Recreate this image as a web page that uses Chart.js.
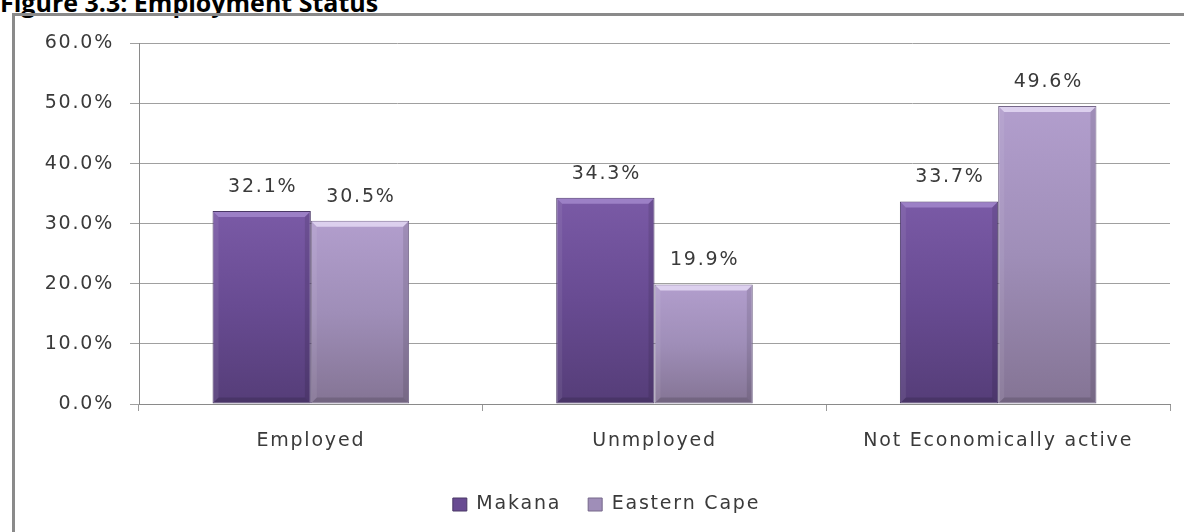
<!DOCTYPE html>
<html>
<head>
<meta charset="utf-8">
<script src="https://cdn.jsdelivr.net/npm/chart.js@4.4.1/dist/chart.umd.min.js"></script>
<style>
    html, body { margin: 0; padding: 0; background: #fff; overflow: hidden; }
    body { width: 1184px; height: 532px; position: relative; }
    #title {
        position: absolute; left: 0; top: -10px; margin: 0;
        font: bold 25px "Open Sans", sans-serif; line-height: 25px; color: #000;
        white-space: nowrap;
    }
    #frame {
        position: absolute; left: 12px; top: 13px; width: 1300px; height: 600px;
        border: 3px solid #8a8a8a;
    }
    #chart { position: absolute; left: 15px; top: 16px; }
</style>
</head>
<body>
<div id="title">Figure 3.3: Employment Status</div>
<div id="frame"></div>
<canvas id="chart" width="1169" height="516"></canvas>
<script>
// values
const categories = ["Employed", "Unmployed", "Not Economically active"];
const makana = [32.1, 34.3, 33.7];
const easternCape = [30.5, 19.9, 49.6];
const yMin = 0, yMax = 60, yStep = 10;

const textColor = "#3a3a3a";
const fontFamily = "DejaVu Sans";
const fontSize = 19;
const spacing = "1.8px"; // the picture's text is drawn wide

function pct(v) { return v.toFixed(1) + "%"; }

// vertical gradient over each bar's own height
function barFill(top, mid, bottom) {
    return function (ctx) {
        const chart = ctx.chart;
        if (!chart.chartArea || ctx.type !== "data") return mid;
        const yScale = chart.scales.y;
        const g = chart.ctx.createLinearGradient(0, yScale.getPixelForValue(ctx.raw), 0, yScale.getPixelForValue(0));
        g.addColorStop(0, top);
        g.addColorStop(0.5, mid);
        g.addColorStop(1, bottom);
        return g;
    };
}

const spacingPlugin = {
    id: "spacing",
    beforeLayout(chart) { chart.ctx.letterSpacing = spacing; },
    afterLayout(chart) {
        if (chart.legend) { chart.legend.left += 14; chart.legend.right += 14; }
    },
    beforeDraw(chart) { chart.ctx.letterSpacing = spacing; },
};

// soft bevel like the office chart style
const bevelColors = ["#9c80c6", "#dcd0ee"];
const bevel = {
    id: "bevel",
    afterDatasetsDraw(chart) {
        const c = chart.ctx;
        const b = 5;
        c.save();
        chart.data.datasets.forEach((ds, i) => {
            chart.getDatasetMeta(i).data.forEach((bar) => {
                const l = bar.x - bar.width / 2 + 1, r = bar.x + bar.width / 2 - 1;
                const t = bar.y + 1, btm = bar.base - 1;
                c.fillStyle = bevelColors[i];
                c.beginPath();
                c.moveTo(l, t); c.lineTo(r, t); c.lineTo(r - b, t + b); c.lineTo(l + b, t + b); c.closePath();
                c.fill();
                c.fillStyle = "rgba(255,255,255,0.07)";
                c.beginPath();
                c.moveTo(l, t); c.lineTo(l + b, t + b); c.lineTo(l + b, btm - b); c.lineTo(l, btm); c.closePath();
                c.fill();
                c.fillStyle = "rgba(0,0,0,0.10)";
                c.beginPath();
                c.moveTo(r, t); c.lineTo(r - b, t + b); c.lineTo(r - b, btm - b); c.lineTo(r, btm); c.closePath();
                c.fill();
                c.fillStyle = "rgba(0,0,0,0.14)";
                c.beginPath();
                c.moveTo(l, btm); c.lineTo(l + b, btm - b); c.lineTo(r - b, btm - b); c.lineTo(r, btm); c.closePath();
                c.fill();
            });
        });
        c.restore();
    },
};

const valueLabels = {
    id: "valueLabels",
    afterDatasetsDraw(chart) {
        const c = chart.ctx;
        c.save();
        c.font = fontSize + 'px "' + fontFamily + '"';
        c.fillStyle = textColor;
        c.textAlign = "center";
        c.textBaseline = "middle";
        chart.data.datasets.forEach((ds, i) => {
            chart.getDatasetMeta(i).data.forEach((bar, j) => {
                c.fillText(pct(ds.data[j]), bar.x + 1, bar.y - 24);
            });
        });
        c.restore();
    },
};

new Chart(document.getElementById("chart"), {
    type: "bar",
    data: {
        labels: categories,
        datasets: [
            {
                label: "Makana",
                data: makana,
                backgroundColor: barFill("#7a5aa6", "#684b92", "#553d78"),
                borderColor: "#4a3866",
                borderWidth: 1,
                borderSkipped: false,
            },
            {
                label: "Eastern Cape",
                data: easternCape,
                backgroundColor: barFill("#b29ecd", "#9f8eb8", "#847494"),
                borderColor: "#76688a",
                borderWidth: 1,
                borderSkipped: false,
            },
        ],
    },
    options: {
        responsive: false,
        animation: false,
        layout: { padding: { top: 27, right: 14, bottom: 8, left: 0 } },
        datasets: { bar: { categoryPercentage: 0.572, barPercentage: 1.0 } },
        scales: {
            x: {
                afterFit(scale) { scale.height = 64; },
                grid: { offset: true, drawOnChartArea: false, drawTicks: true, tickLength: 7, color: "#9a9a9a" },
                border: { color: "#8a8a8a" },
                ticks: { color: textColor, font: { family: fontFamily, size: fontSize }, padding: 19, maxRotation: 0 },
            },
            y: {
                min: yMin,
                max: yMax,
                afterFit(scale) { scale.width = 124; },
                grid: { color: "#a0a0a0", tickLength: 9 },
                border: { color: "#8a8a8a" },
                ticks: {
                    stepSize: yStep,
                    color: textColor,
                    font: { family: fontFamily, size: fontSize },
                    padding: 16,
                    callback: (v) => pct(v),
                },
            },
        },
        plugins: {
            legend: {
                position: "bottom",
                labels: {
                    color: textColor,
                    font: { family: fontFamily, size: fontSize },
                    boxWidth: 14,
                    boxHeight: 13,
                    padding: 27,
                    generateLabels(chart) {
                        const solid = ["#684b92", "#9f8eb8"];
                        const edge = ["#4a3866", "#76688a"];
                        return chart.data.datasets.map((ds, i) => ({
                            text: ds.label,
                            fillStyle: solid[i],
                            strokeStyle: edge[i],
                            lineWidth: 1,
                            fontColor: textColor,
                            datasetIndex: i,
                        }));
                    },
                },
            },
            tooltip: { enabled: false },
        },
    },
    plugins: [spacingPlugin, bevel, valueLabels],
});
</script>
</body>
</html>
